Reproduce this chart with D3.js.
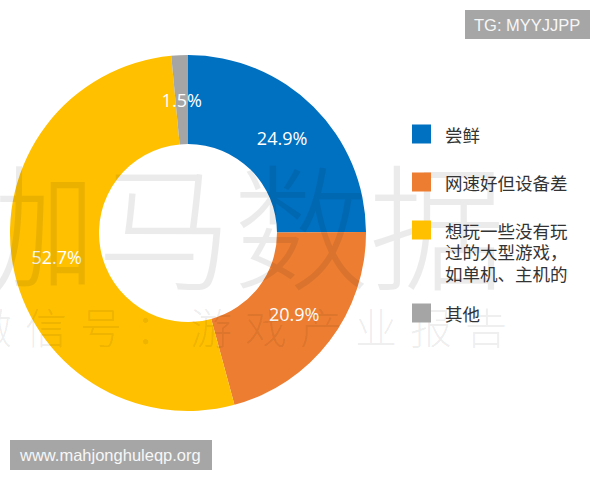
<!DOCTYPE html>
<html>
<head>
<meta charset="utf-8">
<script src="https://cdn.jsdelivr.net/npm/d3@7"></script>
<style>
    body { margin: 0; background: #fff; }
    svg { display: block; }
</style>
</head>
<body>
<svg id="donut_chart" width="600" height="480"></svg>
<script>
var categories = ["尝鲜", "网速好但设备差", "想玩一些没有玩过的大型游戏，如单机、主机的", "其他"]
var legendLines = [["尝鲜"], ["网速好但设备差"], ["想玩一些没有玩", "过的大型游戏，", "如单机、主机的"], ["其他"]]
var shares = [24.9, 20.9, 52.7, 1.5]
var sliceColors = ["#0070C0", "#ED7D31", "#FFC000", "#A5A5A5"]

var svg = d3.select("#donut_chart")

const center = {x: 188, y: 233}
const outerR = 178
const innerR = 89
const cjkFont = "'Noto Sans CJK SC', 'Noto Sans', sans-serif"

var dataset = categories.map((c, i) => ({name: c, value: shares[i], lines: legendLines[i]}))

var color = d3.scaleOrdinal()
    .domain(categories)
    .range(sliceColors)

var pie = d3.pie()
    .sort(null)
    .value(d => d.value)

var arc = d3.arc().innerRadius(innerR).outerRadius(outerR)
var labelArc = d3.arc().innerRadius((innerR + outerR) / 2).outerRadius((innerR + outerR) / 2)

var donut = svg.append("g")
    .attr("transform", "translate(" + center.x + "," + center.y + ")")

donut.selectAll("path.slice")
    .data(pie(dataset)).enter()
    .append("path").classed("slice", true)
    .attr("d", arc)
    .attr("fill", d => color(d.data.name))

// background watermark, drawn over the donut like in the source image
var mark = svg.append("g").attr("fill", "#000").attr("fill-opacity", 0.08)
    .style("font-family", cjkFont)
    .style("font-weight", 300)
mark.append("text")
    .attr("x", -39).attr("y", 280)
    .style("font-size", "136px")
    .text("伽马数据")
mark.append("text")
    .attr("x", -30).attr("y", 344)
    .style("font-size", "42px")
    .style("letter-spacing", "13px")
    .text("微信号：游戏产业报告")

donut.selectAll("text.pct")
    .data(pie(dataset)).enter()
    .append("text").classed("pct", true)
    .attr("transform", d => "translate(" + labelArc.centroid(d) + ")")
    .attr("text-anchor", "middle")
    .attr("dominant-baseline", "central")
    .attr("fill", "#fff")
    .style("font-family", "'Open Sans', sans-serif")
    .style("font-size", "18px")
    .text(d => d.data.value.toFixed(1) + "%")

// legend
var legend = svg.append("g").attr("transform", "translate(412, 0)")
var y = 134
dataset.forEach(function(d) {
    var item = legend.append("g").attr("transform", "translate(0," + y + ")")
    item.append("rect")
        .attr("x", 0).attr("y", -9.5)
        .attr("width", 19).attr("height", 19)
        .attr("fill", color(d.name))
    item.selectAll("text")
        .data(d.lines).enter()
        .append("text")
        .attr("x", 33)
        .attr("y", (l, i) => i * 21.5)
        .attr("dominant-baseline", "central")
        .attr("fill", "#333")
        .style("font-family", cjkFont)
        .style("font-size", "17.5px")
        .text(l => l)
    y += d.lines.length == 1 ? 48 : 40 + (d.lines.length - 1) * 21.5
})

// corner tags
svg.append("rect").attr("x", 465).attr("y", 10).attr("width", 125).attr("height", 29).attr("fill", "#a6a6a6")
svg.append("text").attr("x", 474).attr("y", 31)
    .attr("fill", "#f7f7f7")
    .style("font-family", "'Liberation Sans', Arial, sans-serif")
    .style("font-size", "16.5px")
    .text("TG: MYYJJPP")

svg.append("rect").attr("x", 10).attr("y", 440).attr("width", 202).attr("height", 30).attr("fill", "#a6a6a6")
svg.append("text").attr("x", 20).attr("y", 461)
    .attr("fill", "#f7f7f7")
    .style("font-family", "'Liberation Sans', Arial, sans-serif")
    .style("font-size", "16.5px")
    .text("www.mahjonghuleqp.org")
</script>
</body>
</html>
